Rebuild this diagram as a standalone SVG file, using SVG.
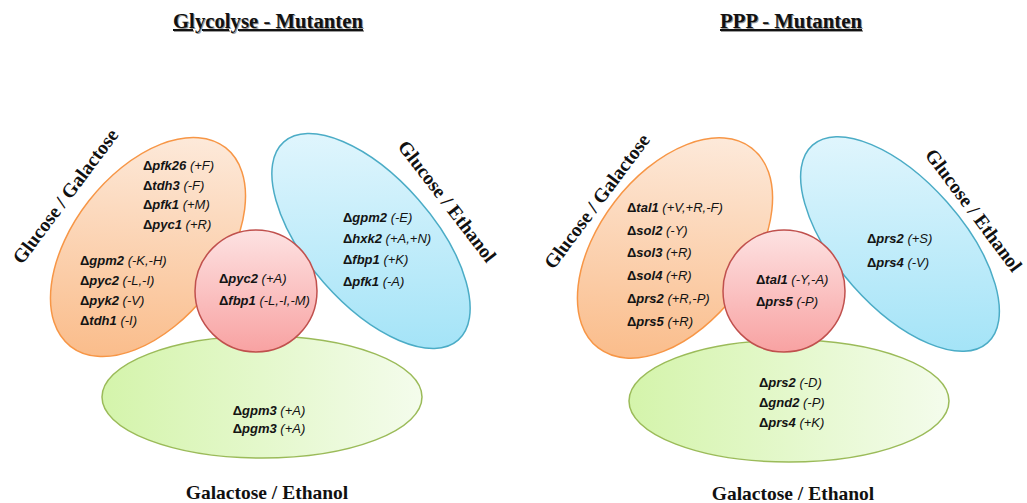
<svg xmlns="http://www.w3.org/2000/svg" width="1027" height="503" viewBox="0 0 1027 503">
<defs>
<linearGradient id="gOr" x1="1" y1="0.3" x2="0" y2="0.7"><stop offset="0" stop-color="#fdebdd"/><stop offset="1" stop-color="#fabb88"/></linearGradient>
<linearGradient id="gBl" x1="0" y1="0.3" x2="1" y2="0.7"><stop offset="0" stop-color="#e2f6fd"/><stop offset="1" stop-color="#a2e3f7"/></linearGradient>
<linearGradient id="gRd" x1="0" y1="0" x2="0" y2="1"><stop offset="0" stop-color="#fde2e2"/><stop offset="1" stop-color="#f8a2a2"/></linearGradient>
<linearGradient id="gGr" x1="0" y1="0" x2="1" y2="0"><stop offset="0" stop-color="#d4f4ab"/><stop offset="1" stop-color="#f4fcec"/></linearGradient>
</defs>
<style>
.or{fill:url(#gOr);stroke:#f79646;stroke-width:1.5}
.bl{fill:url(#gBl);stroke:#4bacc6;stroke-width:1.5}
.rd{fill:url(#gRd);stroke:#c0504d;stroke-width:1.5}
.gr{fill:url(#gGr);stroke:#9bbb59;stroke-width:1.5}
.t{font-family:"Liberation Sans",Arial,sans-serif;font-size:13px;font-style:italic;fill:#141414}
.b{font-weight:bold}
.d{font-weight:bold;font-style:normal}
.lab{font-family:"Liberation Serif","Times New Roman",serif;font-size:19.5px;font-weight:bold;fill:#111}
.ttl{font-family:"Liberation Serif","Times New Roman",serif;font-size:20px;font-weight:bold;text-decoration:underline}
</style>

<g id="title-glycolyse">
<text class="ttl" x="269" y="29" text-anchor="middle" fill="#9a9a9a" textLength="190" lengthAdjust="spacingAndGlyphs">Glycolyse - Mutanten</text>
<text class="ttl" x="268" y="28" text-anchor="middle" fill="#111" textLength="190" lengthAdjust="spacingAndGlyphs">Glycolyse - Mutanten</text>
</g>
<g id="title-ppp">
<text class="ttl" x="792" y="29" text-anchor="middle" fill="#9a9a9a" textLength="142" lengthAdjust="spacingAndGlyphs">PPP - Mutanten</text>
<text class="ttl" x="791" y="28" text-anchor="middle" fill="#111" textLength="142" lengthAdjust="spacingAndGlyphs">PPP - Mutanten</text>
</g>

<!-- Left: Glycolyse -->
<g id="gly-glc-gal">
<ellipse class="or" cx="0" cy="0" rx="126" ry="75" transform="translate(148,247) rotate(-52)"/>
<text class="lab" transform="translate(65,196) rotate(-53.3)" x="0" y="7" text-anchor="middle">Glucose / Galactose</text>
<text class="t" x="143" y="170"><tspan class="d">Δ</tspan><tspan class="b">pfk26</tspan> (+F)</text>
<text class="t" x="143" y="189.5"><tspan class="d">Δ</tspan><tspan class="b">tdh3</tspan> (-F)</text>
<text class="t" x="143" y="209"><tspan class="d">Δ</tspan><tspan class="b">pfk1</tspan> (+M)</text>
<text class="t" x="143" y="228.5"><tspan class="d">Δ</tspan><tspan class="b">pyc1</tspan> (+R)</text>
<text class="t" x="80" y="264.5"><tspan class="d">Δ</tspan><tspan class="b">gpm2</tspan> (-K,-H)</text>
<text class="t" x="80" y="284.5"><tspan class="d">Δ</tspan><tspan class="b">pyc2</tspan> (-L,-I)</text>
<text class="t" x="80" y="304.5"><tspan class="d">Δ</tspan><tspan class="b">pyk2</tspan> (-V)</text>
<text class="t" x="80" y="324.5"><tspan class="d">Δ</tspan><tspan class="b">tdh1</tspan> (-I)</text>
</g>
<g id="gly-glc-eth">
<ellipse class="bl" cx="0" cy="0" rx="132" ry="63" transform="translate(371,241) rotate(48.7)"/>
<text class="lab" transform="translate(447.5,201) rotate(52.5)" x="0" y="7" text-anchor="middle">Glucose / Ethanol</text>
<text class="t" x="343" y="221.5"><tspan class="d">Δ</tspan><tspan class="b">gpm2</tspan> (-E)</text>
<text class="t" x="343" y="242.5"><tspan class="d">Δ</tspan><tspan class="b">hxk2</tspan> (+A,+N)</text>
<text class="t" x="343" y="263.5"><tspan class="d">Δ</tspan><tspan class="b">fbp1</tspan> (+K)</text>
<text class="t" x="343" y="285.5"><tspan class="d">Δ</tspan><tspan class="b">pfk1</tspan> (-A)</text>
</g>
<g id="gly-gal-eth">
<ellipse class="gr" cx="262" cy="397" rx="160" ry="61"/>
<text class="t" x="269" y="414.5" text-anchor="middle"><tspan class="d">Δ</tspan><tspan class="b">gpm3</tspan> (+A)</text>
<text class="t" x="269" y="432.5" text-anchor="middle"><tspan class="d">Δ</tspan><tspan class="b">pgm3</tspan> (+A)</text>
<text class="lab" x="267" y="499" text-anchor="middle">Galactose / Ethanol</text>
</g>
<g id="gly-center">
<circle class="rd" cx="256" cy="291" r="61"/>
<text class="t" x="219" y="282.5"><tspan class="d">Δ</tspan><tspan class="b">pyc2</tspan> (+A)</text>
<text class="t" x="219" y="304.5"><tspan class="d">Δ</tspan><tspan class="b">fbp1</tspan> (-L,-I,-M)</text>
</g>

<!-- Right: PPP -->
<g id="ppp-glc-gal">
<ellipse class="or" cx="0" cy="0" rx="126" ry="76" transform="translate(675,248) rotate(-52.5)"/>
<text class="lab" transform="translate(596.5,201) rotate(-53.3)" x="0" y="7" text-anchor="middle">Glucose / Galactose</text>
<text class="t" x="627" y="212"><tspan class="d">Δ</tspan><tspan class="b">tal1</tspan> (+V,+R,-F)</text>
<text class="t" x="627" y="234.5"><tspan class="d">Δ</tspan><tspan class="b">sol2</tspan> (-Y)</text>
<text class="t" x="627" y="257"><tspan class="d">Δ</tspan><tspan class="b">sol3</tspan> (+R)</text>
<text class="t" x="627" y="280"><tspan class="d">Δ</tspan><tspan class="b">sol4</tspan> (+R)</text>
<text class="t" x="627" y="302.5"><tspan class="d">Δ</tspan><tspan class="b">prs2</tspan> (+R,-P)</text>
<text class="t" x="627" y="325.5"><tspan class="d">Δ</tspan><tspan class="b">prs5</tspan> (+R)</text>
</g>
<g id="ppp-glc-eth">
<ellipse class="bl" cx="0" cy="0" rx="132" ry="63" transform="translate(900,244) rotate(48.5)"/>
<text class="lab" transform="translate(974,210) rotate(53.3)" x="0" y="7" text-anchor="middle">Glucose / Ethanol</text>
<text class="t" x="867" y="242.5"><tspan class="d">Δ</tspan><tspan class="b">prs2</tspan> (+S)</text>
<text class="t" x="867" y="266.5"><tspan class="d">Δ</tspan><tspan class="b">prs4</tspan> (-V)</text>
</g>
<g id="ppp-gal-eth">
<ellipse class="gr" cx="789" cy="401" rx="160" ry="61"/>
<text class="t" x="759" y="387"><tspan class="d">Δ</tspan><tspan class="b">prs2</tspan> (-D)</text>
<text class="t" x="759" y="407"><tspan class="d">Δ</tspan><tspan class="b">gnd2</tspan> (-P)</text>
<text class="t" x="759" y="427"><tspan class="d">Δ</tspan><tspan class="b">prs4</tspan> (+K)</text>
<text class="lab" x="793" y="500" text-anchor="middle">Galactose / Ethanol</text>
</g>
<g id="ppp-center">
<circle class="rd" cx="784" cy="291" r="61"/>
<text class="t" x="756" y="283.5"><tspan class="d">Δ</tspan><tspan class="b">tal1</tspan> (-Y,-A)</text>
<text class="t" x="756" y="306"><tspan class="d">Δ</tspan><tspan class="b">prs5</tspan> (-P)</text>
</g>
<g id="connectors"/>
</svg>
